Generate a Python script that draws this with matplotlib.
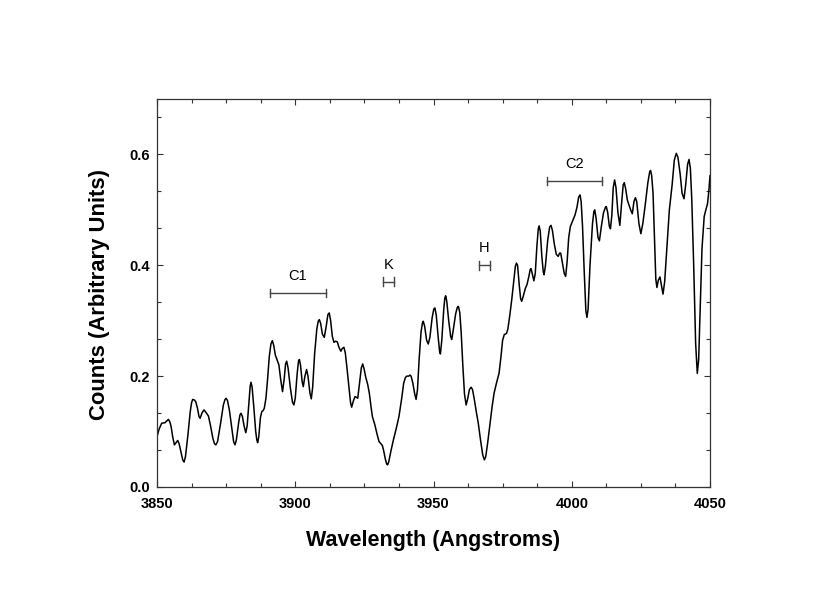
import matplotlib
matplotlib.use("Agg")
import matplotlib.pyplot as plt
from matplotlib.ticker import MultipleLocator, FormatStrFormatter

plt.rcParams['font.family'] = ['Liberation Sans', 'DejaVu Sans']

wavelength = [
    3850.0, 3850.8, 3851.7, 3852.9, 3853.5, 3854.1, 3854.6, 3855.1, 3855.7, 3856.3,
    3856.9, 3857.5, 3858.0, 3858.7, 3859.3, 3859.8, 3860.3, 3861.2, 3862.0, 3862.5,
    3862.9, 3863.5, 3864.0, 3864.6, 3865.2, 3865.6, 3866.3, 3867.0, 3867.8, 3868.6,
    3869.3, 3870.2, 3870.8, 3871.3, 3871.9, 3873.0, 3874.0, 3874.6, 3875.0, 3875.5,
    3876.2, 3877.0, 3877.7, 3878.2, 3878.7, 3879.5, 3880.0, 3880.4, 3880.9, 3881.5,
    3882.1, 3882.6, 3883.2, 3883.7, 3884.0, 3884.4, 3885.0, 3885.7, 3886.1, 3886.4,
    3886.8, 3887.4, 3887.9, 3888.4, 3888.8, 3889.4, 3890.0, 3890.6, 3891.2, 3891.7,
    3892.2, 3892.8, 3893.3, 3894.1, 3894.7, 3895.4, 3896.0, 3896.5, 3896.9, 3897.4,
    3898.2, 3899.0, 3899.5, 3900.0, 3900.7, 3901.2, 3901.5, 3901.9, 3902.5, 3902.9,
    3903.5, 3904.1, 3904.6, 3905.3, 3905.8, 3906.3, 3907.0, 3907.8, 3908.3, 3908.7,
    3909.2, 3909.8, 3910.5, 3911.2, 3911.8, 3912.3, 3912.8, 3913.4, 3914.0, 3914.6,
    3915.2, 3915.8, 3916.5, 3917.0, 3917.6, 3918.1, 3918.7, 3919.5, 3920.0, 3920.4,
    3921.0, 3921.6, 3922.1, 3922.6, 3923.2, 3923.9, 3924.4, 3924.9, 3925.5, 3926.2,
    3926.8, 3927.4, 3927.9, 3928.8, 3929.6, 3930.3, 3931.0, 3931.5, 3932.0, 3932.6,
    3933.1, 3933.4, 3933.8, 3934.6, 3935.5, 3936.5, 3937.5, 3938.5, 3939.2, 3939.8,
    3940.3, 3941.0, 3941.5, 3941.9, 3942.5, 3943.2, 3943.7, 3944.2, 3944.8, 3945.5,
    3946.0, 3946.3, 3946.8, 3947.5, 3948.1, 3948.7, 3949.5, 3950.1, 3950.5, 3951.0,
    3951.7, 3952.2, 3952.5, 3953.0, 3953.7, 3954.1, 3954.4, 3954.8, 3955.5, 3956.2,
    3956.6, 3957.2, 3958.0, 3958.6, 3959.0, 3959.5, 3960.0, 3960.6, 3961.2, 3961.8,
    3962.4, 3963.0, 3963.6, 3964.1, 3964.7, 3965.5, 3966.2, 3967.0, 3967.8, 3968.4,
    3968.9, 3969.6, 3970.4, 3971.2, 3971.9, 3972.8, 3973.7, 3974.4, 3975.0, 3975.6,
    3976.4, 3976.9, 3977.6, 3978.3, 3979.0, 3979.6, 3980.0, 3980.4, 3981.0, 3981.5,
    3981.9, 3982.5, 3983.2, 3983.8, 3984.5, 3985.0, 3985.3, 3985.8, 3986.3, 3986.8,
    3987.4, 3987.9, 3988.2, 3988.6, 3989.2, 3989.7, 3990.0, 3990.5, 3991.3, 3992.0,
    3992.5, 3993.0, 3993.7, 3994.4, 3995.1, 3995.6, 3996.0, 3996.6, 3997.3, 3997.8,
    3998.3, 3998.9, 3999.5, 4000.3, 4001.2, 4001.9, 4002.5, 4003.0, 4003.4, 4003.9,
    4004.5, 4005.1, 4005.5, 4005.9, 4006.6, 4007.5, 4008.0, 4008.3, 4008.8, 4009.5,
    4010.0, 4010.7, 4011.5, 4012.2, 4012.5, 4013.0, 4013.6, 4014.0, 4014.5, 4015.0,
    4015.5, 4016.0, 4016.7, 4017.4, 4018.0, 4018.6, 4019.0, 4019.5, 4020.1, 4020.6,
    4021.3, 4021.9, 4022.5, 4023.0, 4023.5, 4024.3, 4025.0, 4025.7, 4026.6, 4027.5,
    4028.2, 4028.5, 4028.9, 4029.4, 4029.9, 4030.4, 4030.8, 4031.3, 4031.9, 4032.4,
    4033.0, 4033.6, 4034.4, 4035.3, 4036.3, 4037.1, 4037.8, 4038.4, 4039.2, 4039.9,
    4040.6, 4041.2, 4041.9, 4042.4, 4042.9, 4043.4, 4044.1, 4044.8, 4045.4, 4045.9,
    4046.5, 4047.1, 4047.9, 4048.5, 4049.1, 4049.6, 4050.0,
]
counts = [
    0.091, 0.105, 0.115, 0.116, 0.119, 0.122, 0.118, 0.109, 0.090, 0.076,
    0.080, 0.084, 0.078, 0.062, 0.049, 0.045, 0.055, 0.095, 0.135, 0.152,
    0.158, 0.157, 0.154, 0.143, 0.127, 0.124, 0.134, 0.139, 0.134, 0.128,
    0.112, 0.088, 0.078, 0.076, 0.082, 0.115, 0.148, 0.158, 0.160, 0.156,
    0.138, 0.108, 0.082, 0.076, 0.085, 0.115, 0.130, 0.133, 0.127, 0.110,
    0.098, 0.110, 0.150, 0.182, 0.189, 0.180, 0.145, 0.100, 0.085, 0.080,
    0.090, 0.125, 0.136, 0.138, 0.142, 0.160, 0.195, 0.235, 0.258, 0.264,
    0.256, 0.238, 0.231, 0.220, 0.195, 0.172, 0.195, 0.222, 0.227, 0.215,
    0.180, 0.153, 0.148, 0.160, 0.205, 0.228, 0.230, 0.220, 0.190, 0.181,
    0.200, 0.212, 0.200, 0.170, 0.159, 0.180, 0.240, 0.285, 0.299, 0.302,
    0.295, 0.276, 0.270, 0.290, 0.311, 0.314, 0.300, 0.272, 0.261, 0.263,
    0.262, 0.252, 0.245, 0.250, 0.252, 0.242, 0.215, 0.175, 0.152, 0.144,
    0.155, 0.163, 0.162, 0.160, 0.185, 0.215, 0.222, 0.213, 0.198, 0.185,
    0.169, 0.145, 0.127, 0.112, 0.095, 0.082, 0.078, 0.075, 0.065, 0.050,
    0.041, 0.040, 0.045, 0.065, 0.085, 0.105, 0.127, 0.160, 0.187, 0.197,
    0.200, 0.200, 0.202, 0.200, 0.188, 0.168, 0.158, 0.175, 0.230, 0.280,
    0.296, 0.299, 0.290, 0.265, 0.258, 0.270, 0.305, 0.321, 0.323, 0.310,
    0.270, 0.245, 0.240, 0.265, 0.320, 0.341, 0.345, 0.335, 0.300, 0.272,
    0.266, 0.285, 0.312, 0.324, 0.326, 0.315, 0.280, 0.220, 0.168, 0.148,
    0.160, 0.176, 0.180, 0.176, 0.160, 0.135, 0.115, 0.085, 0.058, 0.049,
    0.055, 0.080, 0.112, 0.145, 0.169, 0.188, 0.205, 0.235, 0.265, 0.275,
    0.277, 0.285, 0.310, 0.338, 0.370, 0.398, 0.404, 0.400, 0.365, 0.340,
    0.335, 0.345, 0.358, 0.365, 0.380, 0.393, 0.394, 0.383, 0.372, 0.385,
    0.435, 0.466, 0.471, 0.462, 0.415, 0.388, 0.383, 0.400, 0.445, 0.469,
    0.472, 0.463, 0.438, 0.420, 0.416, 0.422, 0.422, 0.405, 0.385, 0.380,
    0.405, 0.450, 0.470, 0.480, 0.491, 0.505, 0.523, 0.527, 0.515, 0.470,
    0.390, 0.318, 0.306, 0.320, 0.400, 0.475, 0.497, 0.500, 0.485, 0.450,
    0.444, 0.470, 0.495, 0.505, 0.506, 0.495, 0.470, 0.466, 0.490, 0.540,
    0.554, 0.540, 0.495, 0.472, 0.510, 0.545, 0.549, 0.538, 0.518, 0.510,
    0.500, 0.493, 0.515, 0.522, 0.515, 0.475, 0.457, 0.475, 0.510, 0.548,
    0.569, 0.571, 0.562, 0.530, 0.450, 0.375, 0.360, 0.373, 0.379, 0.365,
    0.348, 0.370, 0.430, 0.500, 0.545, 0.590, 0.602, 0.595, 0.565, 0.530,
    0.520, 0.545, 0.582, 0.591, 0.575, 0.520, 0.400, 0.260, 0.205, 0.230,
    0.330, 0.430, 0.488, 0.500, 0.511, 0.535, 0.562,
]

# Feature annotations: label, start, end, bar level
feature_labels = ['C1', 'K', 'H', 'C2']
feature_start = [3891.0, 3931.6, 3966.3, 3991.0]
feature_end = [3911.0, 3935.8, 3970.5, 4011.0]
feature_level = [0.350, 0.370, 0.400, 0.552]

x_ticks = [3850, 3900, 3950, 4000, 4050]
y_ticks = [0.0, 0.2, 0.4, 0.6]

fig = plt.figure(figsize=(8.3, 6.09), dpi=100)
ax = fig.add_axes([157/830, 1 - 487/609, (710-157)/830, (487-99)/609])

ax.plot(wavelength, counts, color='black', linewidth=1.1,
        solid_joinstyle='round', solid_capstyle='round')

ann_color = '#444444'
for lab, s, e, lv in zip(feature_labels, feature_start, feature_end, feature_level):
    ax.plot([s, e], [lv, lv], color=ann_color, linewidth=1.0)
    ax.plot([s, s], [lv - 0.008, lv + 0.008], color=ann_color, linewidth=1.0)
    ax.plot([e, e], [lv - 0.008, lv + 0.008], color=ann_color, linewidth=1.0)
    ax.text((s + e) / 2, lv + 0.018, lab, ha='center', va='bottom',
            fontsize=10.5, color='black')

ax.set_xlim(3850, 4050)
ax.set_ylim(0.0, 0.7)
ax.set_xticks(x_ticks)
ax.set_yticks(y_ticks)
ax.xaxis.set_minor_locator(MultipleLocator(12.5))
ax.yaxis.set_minor_locator(MultipleLocator(0.2 / 3))
ax.yaxis.set_major_formatter(FormatStrFormatter('%.1f'))

ax.tick_params(which='both', direction='in', top=True, right=True,
               color='#333333', width=0.8)
ax.tick_params(which='major', length=4.0, labelsize=10.5, pad=7)
ax.tick_params(axis='y', which='major', pad=5)
ax.tick_params(which='minor', length=3.2)
for lbl in ax.get_xticklabels() + ax.get_yticklabels():
    lbl.set_fontweight('bold')

for sp in ax.spines.values():
    sp.set_color('#333333')
    sp.set_linewidth(0.9)

ax.set_xlabel('Wavelength (Angstroms)', fontsize=15.5, fontweight='bold')
ax.set_ylabel('Counts (Arbitrary Units)', fontsize=15.8, fontweight='bold')
ax.xaxis.set_label_coords(0.5, -0.112)
ax.yaxis.set_label_coords(-0.085, 0.495)

fig.savefig('out.png', dpi=100)
